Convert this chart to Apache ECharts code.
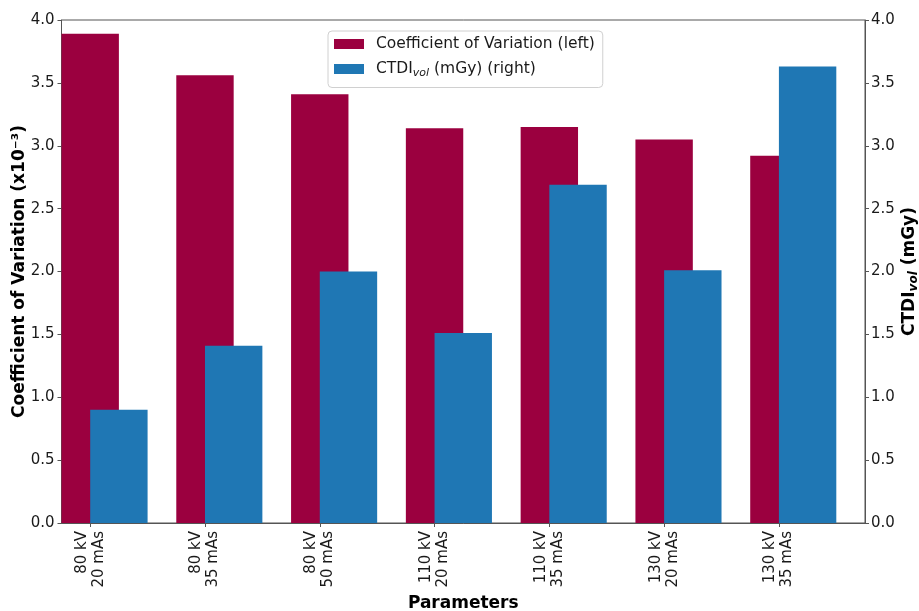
<!DOCTYPE html>
<html>
<head>
<meta charset="utf-8">
<script src="https://cdn.jsdelivr.net/npm/echarts@6/dist/echarts.min.js"></script>
<style>
  html, body { margin: 0; padding: 0; background: #ffffff; }
  #chart { width: 919px; height: 611px; }
</style>
</head>
<body>
<div id="chart"></div>
<script>
// Acquisition settings (kV / mAs)
const categories = [
  '80 kV\n20 mAs', '80 kV\n35 mAs', '80 kV\n50 mAs',
  '110 kV\n20 mAs', '110 kV\n35 mAs',
  '130 kV\n20 mAs', '130 kV\n35 mAs'
];
// Coefficient of variation (x10^-3), left axis
const cvValues = [3.89, 3.56, 3.41, 3.14, 3.15, 3.05, 2.92];
// CTDIvol in mGy, right axis
const ctdiValues = [0.90, 1.41, 2.00, 1.51, 2.69, 2.01, 3.63];
// Shared tick labels for both value axes
const yTicks = ['0.0', '0.5', '1.0', '1.5', '2.0', '2.5', '3.0', '3.5', '4.0'];

const CV_NAME = 'Coefficient of Variation (left)';
const CTDI_NAME = 'CTDIvol (mGy) (right)';

const FONT = 'DejaVu Sans';
const TXT = '#1a1a1a';
const AXIS = '#555555';
const RED = '#9b003f';
const BLUE = '#1f77b4';

// plot frame
const L = 61.5, R = 54, T = 20, B = 88;
const plotW = 919 - L - R;
const unit = plotW / categories.length;
// tick row sits a quarter band into each category
const tickL = L + unit * 0.25;
const tickR = 919 - (tickL + unit * (categories.length - 1));

const chart = echarts.init(document.getElementById('chart'), null, { renderer: 'canvas' });

const yLabel = {
  fontFamily: FONT, fontSize: 15, color: TXT,
  formatter: v => yTicks[Math.round(v / 0.5)]
};
const titleStyle = { fontFamily: FONT, fontSize: 17, fontWeight: 'bold', color: '#000' };

chart.setOption({
  animation: false,
  backgroundColor: '#ffffff',
  textStyle: { fontFamily: FONT },
  grid: [
    { left: L, right: R, top: T, bottom: B, show: true, borderColor: AXIS, borderWidth: 1,
      backgroundColor: 'transparent', containLabel: false, outerBoundsMode: 'none' },
    { left: tickL, right: tickR, top: T, bottom: B, show: false, containLabel: false, outerBoundsMode: 'none' }
  ],
  legend: {
    orient: 'vertical',
    left: 328, top: 31,
    data: [CV_NAME, CTDI_NAME],
    itemWidth: 30, itemHeight: 10, itemGap: 9,
    backgroundColor: '#ffffff',
    borderColor: '#d0d0d0', borderWidth: 1, borderRadius: 4,
    padding: [5, 8, 9, 6],
    icon: 'rect',
    formatter: name => name === CTDI_NAME
      ? '{a|CTDI}{s|vol}{c| (mGy) (right)}'
      : '{a|' + name + '}',
    textStyle: {
      fontFamily: FONT, fontSize: 15.5, color: TXT,
      rich: {
        a: { fontFamily: FONT, fontSize: 15.5, color: TXT, padding: [0, 0, 0, 7] },
        c: { fontFamily: FONT, fontSize: 15.5, color: TXT },
        s: { fontFamily: FONT, fontSize: 11, fontStyle: 'italic', color: TXT, verticalAlign: 'bottom', padding: [8, 0, 0, 0] }
      }
    }
  },
  xAxis: [
    {
      type: 'category', gridIndex: 0, data: categories, boundaryGap: true,
      axisLine: { show: true, lineStyle: { color: AXIS, width: 1 } },
      axisTick: { show: false }, axisLabel: { show: false }, splitLine: { show: false },
      name: 'Parameters', nameLocation: 'middle', nameGap: 72, nameMoveOverlap: false,
      nameTextStyle: titleStyle
    },
    {
      type: 'category', gridIndex: 1, data: categories, boundaryGap: false, position: 'bottom',
      axisLine: { show: false },
      axisTick: { show: true, length: 4, lineStyle: { color: AXIS } },
      axisLabel: { rotate: 90, fontFamily: FONT, fontSize: 15, lineHeight: 17, color: TXT, margin: 8, interval: 0 },
      splitLine: { show: false }
    }
  ],
  yAxis: [
    {
      type: 'value', gridIndex: 0, position: 'left', min: 0, max: 4, interval: 0.5,
      axisLine: { show: true, lineStyle: { color: AXIS } },
      axisTick: { show: true, length: 4, lineStyle: { color: AXIS } },
      splitLine: { show: false },
      axisLabel: Object.assign({ margin: 7 }, yLabel),
      name: 'Coefficient of Variation (x10⁻³)', nameLocation: 'middle', nameRotate: 90, nameGap: 33,
      nameMoveOverlap: false,
      nameTextStyle: titleStyle
    },
    {
      type: 'value', gridIndex: 0, position: 'right', min: 0, max: 4, interval: 0.5,
      axisLine: { show: true, lineStyle: { color: AXIS } },
      axisTick: { show: true, length: 4, lineStyle: { color: AXIS } },
      splitLine: { show: false },
      axisLabel: Object.assign({ margin: 6 }, yLabel),
      name: '{b|CTDI}{s|vol}{b| (mGy)}', nameLocation: 'middle', nameRotate: 90, nameGap: 35,
      nameMoveOverlap: false,
      nameTextStyle: Object.assign({}, titleStyle, {
        rich: {
          b: titleStyle,
          s: { fontFamily: FONT, fontSize: 12, fontStyle: 'italic', color: '#000', verticalAlign: 'bottom', padding: [8, 0, 0, 0] }
        }
      })
    },
    { type: 'value', gridIndex: 1, show: false, min: 0, max: 4 }
  ],
  series: [
    {
      name: CV_NAME, type: 'bar', xAxisIndex: 0, yAxisIndex: 0,
      data: cvValues, barWidth: '50%', barGap: '-50%',
      itemStyle: { color: RED }
    },
    {
      name: CTDI_NAME, type: 'bar', xAxisIndex: 0, yAxisIndex: 1,
      data: ctdiValues, barWidth: '50%', barGap: '-50%',
      itemStyle: { color: BLUE }
    },
    {
      // empty slot that keeps the pair left-aligned in each band
      name: 'pad', type: 'bar', xAxisIndex: 0, yAxisIndex: 0,
      data: cvValues.map(() => 0), barWidth: '50%', barGap: '-50%',
      itemStyle: { opacity: 0 }, silent: true
    }
  ]
});
</script>
</body>
</html>
